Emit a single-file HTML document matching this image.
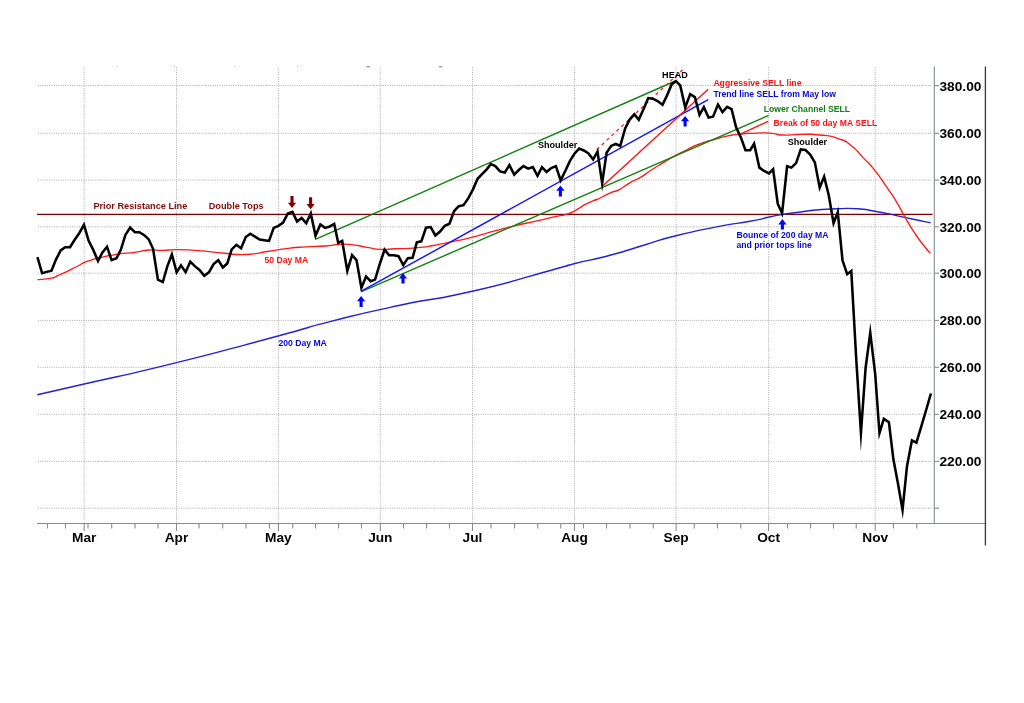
<!DOCTYPE html>
<html><head><meta charset="utf-8"><title>Chart</title>
<style>html,body{margin:0;padding:0;background:#fff;width:1024px;height:703px;overflow:hidden}</style>
</head><body>
<svg width="1024" height="703" viewBox="0 0 1024 703" style="position:absolute;left:0;top:0">
<rect width="1024" height="703" fill="#fff"/>
<g stroke="#a4a4a4" stroke-width="0.9" stroke-dasharray="1 1.27" fill="none" shape-rendering="auto">
<line x1="38" y1="508.2" x2="932.5" y2="508.2"/>
<line x1="38" y1="461.4" x2="932.5" y2="461.4"/>
<line x1="38" y1="414.3" x2="932.5" y2="414.3"/>
<line x1="38" y1="367.3" x2="932.5" y2="367.3"/>
<line x1="38" y1="320.4" x2="932.5" y2="320.4"/>
<line x1="38" y1="273.2" x2="932.5" y2="273.2"/>
<line x1="38" y1="226.8" x2="932.5" y2="226.8"/>
<line x1="38" y1="180.1" x2="932.5" y2="180.1"/>
<line x1="38" y1="133.3" x2="932.5" y2="133.3"/>
<line x1="38" y1="85.6" x2="932.5" y2="85.6"/>
<line x1="84.2" y1="67.5" x2="84.2" y2="523"/>
<line x1="176.5" y1="67.5" x2="176.5" y2="523"/>
<line x1="278.4" y1="67.5" x2="278.4" y2="523"/>
<line x1="380.3" y1="67.5" x2="380.3" y2="523"/>
<line x1="472.5" y1="67.5" x2="472.5" y2="523"/>
<line x1="574.5" y1="67.5" x2="574.5" y2="523"/>
<line x1="676.1" y1="67.5" x2="676.1" y2="523"/>
<line x1="768.6" y1="67.5" x2="768.6" y2="523"/>
<line x1="875.2" y1="67.5" x2="875.2" y2="523"/>
</g>
<ellipse cx="368.1" cy="66.7" rx="2.1" ry="0.8" fill="#9a958f"/>
<ellipse cx="440.6" cy="66.7" rx="2.1" ry="0.8" fill="#9a958f"/>
<rect x="116.5" y="66" width="1" height="1" fill="#b5b5c0"/>
<rect x="174.0" y="66" width="1" height="1" fill="#b5b5c0"/>
<rect x="234.5" y="66" width="1" height="1" fill="#b5b5c0"/>
<rect x="297.0" y="66" width="1" height="1" fill="#b5b5c0"/>
<g stroke="#868b96" stroke-width="1.1" fill="none">
<line x1="37" y1="523.5" x2="985.5" y2="523.5"/>
<line x1="934.3" y1="66.5" x2="934.3" y2="523.5"/>
<line x1="934" y1="508.2" x2="939" y2="508.2"/>
<line x1="934" y1="461.4" x2="939" y2="461.4"/>
<line x1="934" y1="414.3" x2="939" y2="414.3"/>
<line x1="934" y1="367.3" x2="939" y2="367.3"/>
<line x1="934" y1="320.4" x2="939" y2="320.4"/>
<line x1="934" y1="273.2" x2="939" y2="273.2"/>
<line x1="934" y1="226.8" x2="939" y2="226.8"/>
<line x1="934" y1="180.1" x2="939" y2="180.1"/>
<line x1="934" y1="133.3" x2="939" y2="133.3"/>
<line x1="934" y1="85.6" x2="939" y2="85.6"/>
<line x1="47.5" y1="523.5" x2="47.5" y2="528.5"/>
<line x1="65.5" y1="523.5" x2="65.5" y2="528.5"/>
<line x1="88" y1="523.5" x2="88" y2="528.5"/>
<line x1="111.7" y1="523.5" x2="111.7" y2="528.5"/>
<line x1="135" y1="523.5" x2="135" y2="528.5"/>
<line x1="158" y1="523.5" x2="158" y2="528.5"/>
<line x1="199" y1="523.5" x2="199" y2="528.5"/>
<line x1="222.7" y1="523.5" x2="222.7" y2="528.5"/>
<line x1="246" y1="523.5" x2="246" y2="528.5"/>
<line x1="269.5" y1="523.5" x2="269.5" y2="528.5"/>
<line x1="292.75" y1="523.5" x2="292.75" y2="528.5"/>
<line x1="315.5" y1="523.5" x2="315.5" y2="528.5"/>
<line x1="338.5" y1="523.5" x2="338.5" y2="528.5"/>
<line x1="361.5" y1="523.5" x2="361.5" y2="528.5"/>
<line x1="403.5" y1="523.5" x2="403.5" y2="528.5"/>
<line x1="426.5" y1="523.5" x2="426.5" y2="528.5"/>
<line x1="449.5" y1="523.5" x2="449.5" y2="528.5"/>
<line x1="491" y1="523.5" x2="491" y2="528.5"/>
<line x1="514.5" y1="523.5" x2="514.5" y2="528.5"/>
<line x1="537.75" y1="523.5" x2="537.75" y2="528.5"/>
<line x1="560.75" y1="523.5" x2="560.75" y2="528.5"/>
<line x1="583.5" y1="523.5" x2="583.5" y2="528.5"/>
<line x1="606.5" y1="523.5" x2="606.5" y2="528.5"/>
<line x1="630" y1="523.5" x2="630" y2="528.5"/>
<line x1="653.25" y1="523.5" x2="653.25" y2="528.5"/>
<line x1="694.25" y1="523.5" x2="694.25" y2="528.5"/>
<line x1="717.5" y1="523.5" x2="717.5" y2="528.5"/>
<line x1="740.75" y1="523.5" x2="740.75" y2="528.5"/>
<line x1="787.5" y1="523.5" x2="787.5" y2="528.5"/>
<line x1="810.5" y1="523.5" x2="810.5" y2="528.5"/>
<line x1="833.5" y1="523.5" x2="833.5" y2="528.5"/>
<line x1="856.25" y1="523.5" x2="856.25" y2="528.5"/>
<line x1="893.5" y1="523.5" x2="893.5" y2="528.5"/>
<line x1="916.75" y1="523.5" x2="916.75" y2="528.5"/>
<line x1="84.2" y1="523.5" x2="84.2" y2="531"/>
<line x1="176.5" y1="523.5" x2="176.5" y2="531"/>
<line x1="278.4" y1="523.5" x2="278.4" y2="531"/>
<line x1="380.3" y1="523.5" x2="380.3" y2="531"/>
<line x1="472.5" y1="523.5" x2="472.5" y2="531"/>
<line x1="574.5" y1="523.5" x2="574.5" y2="531"/>
<line x1="676.1" y1="523.5" x2="676.1" y2="531"/>
<line x1="768.6" y1="523.5" x2="768.6" y2="531"/>
<line x1="875.2" y1="523.5" x2="875.2" y2="531"/>
</g>
<line x1="985.4" y1="66.5" x2="985.4" y2="545.5" stroke="#33363c" stroke-width="1.3"/>
<line x1="37" y1="214.4" x2="932.6" y2="214.4" stroke="#800000" stroke-width="1.4"/>
<path d="M37.3,394.8C52.93,391.20 37.80,394.73 84.2,384C130.60,373.27 111.57,378.70 176.5,362.6C241.43,346.50 227.83,349.37 279,335.7C330.17,322.03 289.67,331.73 330,321.6C370.33,311.47 352.63,315.40 400,305.3C447.37,295.20 421.70,303.00 472.1,291.3C522.50,279.60 517.23,279.37 551.2,270.2C585.17,261.03 554.07,268.87 574,263.8C593.93,258.73 586.97,261.43 611,255C635.03,248.57 624.43,250.93 646.1,244.5C667.77,238.07 652.53,241.57 676,235.7C699.47,229.83 691.83,231.70 716.5,226.9C741.17,222.10 732.33,224.60 750,221.3C767.67,218.00 758.70,219.27 769.5,217C780.30,214.73 771.97,216.17 782.4,214.5C792.83,212.83 788.43,213.60 800.8,212C813.17,210.40 807.07,210.77 819.5,209.7C831.93,208.63 825.67,209.13 838.1,208.8C850.53,208.47 844.50,207.90 856.8,208.7C869.10,209.50 862.43,209.07 875,211.2C887.57,213.33 882.13,212.50 894.5,215.1C906.87,217.70 900.03,216.40 912.1,219C924.17,221.60 924.50,221.60 930.7,222.9" fill="none" stroke="#2222d2" stroke-width="1.4"/>
<path d="M37.42,279.69C42.11,279.17 44.51,279.55 51.48,278.12C58.45,276.69 53.76,277.28 58.32,275.39C62.88,273.50 60.60,274.61 65.16,272.46C69.72,270.31 67.30,271.36 71.99,268.95C76.68,266.54 74.86,267.51 79.22,265.23C83.58,262.95 81.30,263.74 85.08,262.11C88.86,260.48 86.25,261.65 90.55,260.35C94.85,259.05 89.31,260.22 97.97,258.2C106.63,256.18 104.22,256.25 116.52,254.3C128.82,252.35 124.14,253.77 134.88,252.34C145.62,250.91 139.44,250.65 148.75,250C158.06,249.35 153.57,250.52 162.81,250.39C172.05,250.26 165.74,249.61 176.48,249.61C187.22,249.61 184.23,249.74 195.04,250.39C205.85,251.04 198.17,250.52 208.91,251.56C219.65,252.60 219.67,252.63 227.27,253.52C234.87,254.41 224.05,253.99 231.72,254.22C239.39,254.45 237.90,255.20 250.27,254.22C262.64,253.24 256.33,253.24 268.83,251.29C281.33,249.34 275.27,249.86 287.77,248.36C300.27,246.86 293.89,247.58 306.33,246.8C318.77,246.02 314.14,246.80 325.08,246.02C336.02,245.24 329.83,244.84 339.14,244.45C348.45,244.06 343.70,243.86 353.01,244.84C362.32,245.82 357.76,245.88 367.07,247.38C376.38,248.88 371.63,248.88 380.94,249.34C390.25,249.80 385.63,249.08 395,248.75C404.37,248.42 400.73,248.82 409.06,248.36C417.39,247.90 413.18,248.10 420,247.38C426.82,246.66 419.84,247.90 429.53,246.21C439.22,244.52 434.74,245.36 449.06,242.3C463.38,239.24 456.87,240.93 472.5,237.03C488.13,233.13 481.62,234.37 495.94,230.59C510.26,226.81 501.80,228.96 515.47,225.7C529.14,222.44 523.28,223.94 536.95,220.82C550.62,217.70 546.71,218.48 556.48,216.33C566.25,214.18 559.74,216.46 566.25,214.38C572.76,212.30 569.51,213.47 576.02,210.08C582.53,206.69 579.27,207.67 585.78,204.22C592.29,200.77 591.84,201.24 595.55,199.73C599.26,198.22 592.15,201.88 596.9,199.7C601.65,197.52 602.17,196.67 609.8,193.2C617.43,189.73 613.13,192.77 619.8,189.3C626.47,185.83 623.07,186.67 629.8,182.8C636.53,178.93 632.70,182.03 640,177.7C647.30,173.37 643.90,174.80 651.7,169.8C659.50,164.80 655.57,167.40 663.4,162.7C671.23,158.00 667.37,160.00 675.2,155.7C683.03,151.40 679.88,153.30 686.9,149.8C693.92,146.30 690.02,147.83 696.25,145.2C702.48,142.57 699.35,143.87 705.6,141.9C711.85,139.93 708.73,141.03 715,139.3C721.27,137.57 718.15,138.20 724.4,136.7C730.65,135.20 728.28,135.60 733.75,134.8C739.22,134.00 736.12,134.83 740.8,134.3C745.48,133.77 744.73,133.49 747.8,133.2C750.87,132.91 742.76,133.49 750,133.44C757.24,133.39 758.72,132.53 769.53,133.05C780.34,133.57 772.00,134.55 782.42,135C792.84,135.45 788.41,134.41 800.78,134.41C813.15,134.41 807.09,133.63 819.53,135C831.97,136.37 827.41,134.87 838.09,138.52C848.77,142.17 843.16,139.50 851.56,145.94C859.96,152.38 855.47,149.65 863.28,157.85C871.09,166.05 867.19,160.78 875,170.55C882.81,180.32 879.56,176.73 886.72,187.15C893.88,197.57 889.97,191.06 896.48,201.8C902.99,212.54 899.74,208.31 906.25,219.38C912.76,230.45 909.84,225.89 916.02,235C922.20,244.11 920.01,240.59 924.8,246.72C929.59,252.85 928.53,251.17 930.4,253.4" fill="none" stroke="#ff1a1a" stroke-width="1.35"/>
<g stroke-width="1.4" fill="none">
<line x1="315.3" y1="239.4" x2="675.8" y2="80.75" stroke="#108010"/>
<line x1="361.4" y1="291.6" x2="768.6" y2="115.4" stroke="#108010"/>
<line x1="361.4" y1="291.2" x2="708.2" y2="99.6" stroke="#1010ff"/>
<line x1="602.1" y1="186.6" x2="708.2" y2="89.3" stroke="#ff1010"/>
<line x1="739.8" y1="134.4" x2="768.1" y2="121.4" stroke="#ff1010"/>
<line x1="596.8" y1="149.5" x2="685.1" y2="67.4" stroke="#ff2020" stroke-width="1.25" stroke-dasharray="3.2 3.5"/>
</g>
<polyline points="37.42,257.03 42.11,273.24 46.6,271.88 51.48,270.7 55.98,259.57 60.66,250.39 65.16,247.27 70.04,247.27 74.53,240.04 79.22,233.2 83.96,224.8 88.59,240.62 93.48,250.39 98.01,260.93 102.27,252.73 107.01,246.81 111.64,260.16 116.52,258.2 120.82,249.8 125.31,235.16 130.06,227.46 134.88,232.23 139.38,232.23 144.26,235.16 148.75,239.45 153.05,248.83 157.93,279.69 162.81,282.03 167.3,266.41 171.87,254.45 176.67,272.27 181,265.35 185.59,272.16 190.29,261.63 195.04,266.41 199.53,269.92 204.22,275.78 208.91,272.27 213.59,264.06 218.28,260.16 222.83,267.5 227.27,263.48 231.72,249.34 236.41,244.84 241.09,248.36 245.78,237.03 250.27,233.71 254.96,236.64 259.65,239.57 264.34,240.16 269.02,240.94 273.71,227.85 278.4,225.9 283.09,222.58 287.77,213.59 292.46,211.84 297.06,221.51 301.64,218.09 306.21,223.19 310.81,213.43 315.53,235.87 320.39,224.53 325.08,227.85 329.77,226.48 334.21,223.93 338.22,242.86 342.18,240.82 347.31,270.83 352.05,255.15 356.52,260.08 361.4,287.86 366.05,276.47 370.59,281.17 375.08,279.61 379.77,263.98 384.6,249.66 389.14,255.2 393.83,255.2 398.52,256.17 403.24,265.11 407.89,258.12 412.58,257.73 416.84,242.3 421.33,241.33 426.02,227.66 430.7,227.07 435.39,235.47 440.08,231.56 444.77,225.7 449.45,223.75 454.14,211.05 458.83,206.17 463.52,205.2 468.2,198.36 472.89,189.57 477.58,178.83 482.27,173.95 486.95,169.06 490.66,164.18 495.35,166.13 500.04,171.41 504.73,172.58 509.36,165.13 514.21,174.67 518.79,170.04 523.48,166.13 528.16,168.67 532.85,167.11 537.51,175.8 541.95,167.19 546.52,171.99 551.21,168.09 555.9,166.13 560.67,180.34 565.27,171.02 569.96,160.86 574.65,153.44 579.14,148.55 583.83,150.51 588.52,153.44 593.12,159.47 597.49,151.62 602.15,183.23 606.6,152.77 611.09,145.94 615.78,143.98 620.27,145.94 625.16,128.36 629.65,119.57 634.34,114.3 638.74,119.77 643.71,108.83 648.2,98.09 652.89,98.67 657.58,101.02 662.55,104.83 667.15,95.16 671.64,84.41 675.94,81.09 680.23,85.39 685.23,107.48 690.17,94.1 694.88,97.11 699.52,114.96 703.86,107.12 708.55,117.62 713.05,116.64 717.99,104.53 722.49,112.08 727.11,106.88 731.6,109.22 736.09,127.38 740.78,137.15 745.47,150.23 750.16,150.23 754.09,143.72 759.38,167.62 764.06,170.94 768.95,173.48 773.12,169.27 777.73,203.75 782.08,213.23 787.11,166.25 791.41,167.62 796.09,163.12 800.78,149.45 805.47,150.04 810.16,154.53 814.84,162.34 819.69,187.56 824.14,176.67 828.71,194.96 833.56,223.3 837.78,212.2 842.5,260.3 847.17,274.2 851.3,271.06 856.3,360 860.94,432.8 865.6,368 870.27,332.67 875.2,374 879.47,433.14 883.81,418.87 888.9,422.2 893.4,459.3 898,483.75 902.53,509.87 907,466.2 911.94,440.37 916.42,442.61 921.1,427.1 926,410.5 930.9,393.5" fill="none" stroke="#000" stroke-width="2.55" stroke-linejoin="miter" stroke-miterlimit="80"/>
<path d="M290.45,196.1H293.55V202.8H296.1L292,208.10000000000002L287.9,202.8H290.45Z" fill="#800000"/>
<path d="M309.05,197.2H312.15000000000003V203.9H314.70000000000005L310.6,209.20000000000002L306.5,203.9H309.05Z" fill="#800000"/>
<path d="M359.55,307H362.65000000000003V301.2H365.20000000000005L361.1,295.9L357.0,301.2H359.55Z" fill="#0000ff"/>
<path d="M401.45,283.5H404.55V278.4H407.1L403,273.09999999999997L398.9,278.4H401.45Z" fill="#0000ff"/>
<path d="M558.85,196.4H561.9499999999999V190.7H564.5L560.4,185.39999999999998L556.3,190.7H558.85Z" fill="#0000ff"/>
<path d="M683.5500000000001,126.4H686.65V121.25H689.2L685.1,115.95L681.0,121.25H683.5500000000001Z" fill="#0000ff"/>
<path d="M780.85,229.5H783.9499999999999V224.4H786.5L782.4,219.1L778.3,224.4H780.85Z" fill="#0000ff"/>
<g font-family="Liberation Sans, Arial, sans-serif" font-weight="bold">
<g font-size="13.7" fill="#000">
<text x="939.5" y="466.3">220.00</text>
<text x="939.5" y="419.2">240.00</text>
<text x="939.5" y="372.2">260.00</text>
<text x="939.5" y="325.3">280.00</text>
<text x="939.5" y="278.1">300.00</text>
<text x="939.5" y="231.7">320.00</text>
<text x="939.5" y="185.0">340.00</text>
<text x="939.5" y="138.2">360.00</text>
<text x="939.5" y="90.5">380.00</text>
<text x="84.2" y="542.3" text-anchor="middle">Mar</text>
<text x="176.5" y="542.3" text-anchor="middle">Apr</text>
<text x="278.4" y="542.3" text-anchor="middle">May</text>
<text x="380.3" y="542.3" text-anchor="middle">Jun</text>
<text x="472.5" y="542.3" text-anchor="middle">Jul</text>
<text x="574.5" y="542.3" text-anchor="middle">Aug</text>
<text x="676.1" y="542.3" text-anchor="middle">Sep</text>
<text x="768.6" y="542.3" text-anchor="middle">Oct</text>
<text x="875.2" y="542.3" text-anchor="middle">Nov</text>
</g>
<g font-size="9.2" fill="#850a0a">
<text x="93.4" y="209">Prior Resistance Line</text>
<text x="208.7" y="209">Double Tops</text>
</g>
<g font-size="9.1" fill="#000">
<text x="537.9" y="148.4">Shoulder</text>
<text x="787.7" y="144.5">Shoulder</text>
<text x="662.1" y="77.9">HEAD</text>
</g>
<g font-size="8.65">
<text x="264.5" y="262.5" fill="#ff1010">50 Day MA</text>
<text x="278.4" y="346.1" fill="#0808d6">200 Day MA</text>
<text x="713.4" y="86.1" fill="#ff1010">Aggressive SELL line</text>
<text x="713.4" y="97.3" fill="#0808d6">Trend line SELL from May low</text>
<text x="763.8" y="111.9" fill="#108010">Lower Channel SELL</text>
<text x="773.6" y="125.6" fill="#ff1010">Break of 50 day MA SELL</text>
<text x="736.5" y="238.1" fill="#0808d6">Bounce of 200 day MA</text>
<text x="736.5" y="247.9" fill="#0808d6">and prior tops line</text>
</g></g>
</svg>
</body></html>
